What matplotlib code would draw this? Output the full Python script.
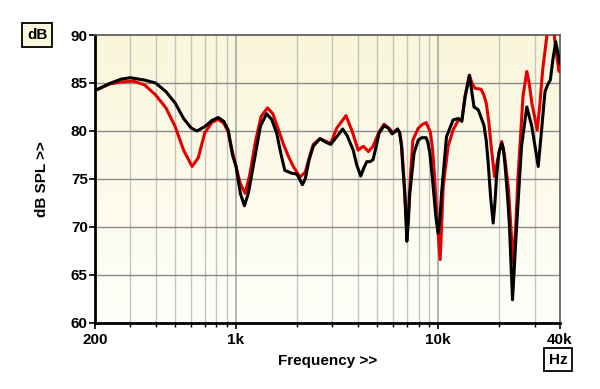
import numpy as np
import matplotlib

matplotlib.use('Agg')
import matplotlib.pyplot as plt
from matplotlib.colors import LinearSegmentedColormap
from matplotlib.ticker import FixedLocator, NullFormatter

plt.rcParams['font.family'] = ['Liberation Sans', 'DejaVu Sans']
plt.rcParams['font.weight'] = 'bold'

# --- Данные (частота, Гц / уровень, дБ) ---
freq_black = [200, 237, 270, 300, 353, 400, 450, 500, 550, 600, 640, 700, 760, 816, 870,
              914, 960, 1000, 1050, 1100, 1150, 1240, 1320, 1416, 1500, 1588, 1660, 1742,
              1880, 2000, 2060, 2130, 2200, 2300, 2410, 2600, 2800, 2940, 3150, 3370, 3550,
              3800, 3950, 4140, 4300, 4440, 4600, 4760, 4950, 5100, 5400, 5660, 5920, 6100,
              6300, 6450, 6590, 6700, 6850, 7000, 7120, 7240, 7600, 7980, 8300, 8720, 8900,
              9100, 9450, 9750, 10000, 10200, 10400, 11000, 11860, 12600, 13100, 13600,
              14280, 14700, 15050, 15800, 16850, 17300, 17700, 18200, 18720, 19100, 19450,
              20000, 20640, 21000, 21400, 22000, 22500, 23340, 24400, 25860, 27460, 29100,
              31280, 32500, 33800, 34800, 35900, 37000, 38200, 40000]
spl_black = [84.2, 84.95, 85.4, 85.55, 85.3, 85.0, 84.1, 82.9, 81.3, 80.3, 80.0, 80.45, 81.1,
             81.4, 81.0, 80.1, 77.5, 76.3, 73.5, 72.2, 73.5, 77.3, 80.5, 81.8, 81.2, 79.8,
             77.8, 75.9, 75.6, 75.5, 75.0, 74.4, 75.0, 77.0, 78.4, 79.2, 78.8, 78.6, 79.4,
             80.2, 79.5, 78.0, 76.5, 75.3, 76.2, 76.8, 76.8, 77.0, 78.5, 79.76, 80.55, 80.3,
             79.7, 79.9, 80.2, 79.8, 78.4, 76.0, 73.5, 68.5, 70.5, 73.5, 77.7, 79.06, 79.3,
             79.3, 78.8, 77.7, 74.2, 71.0, 69.35, 70.8, 73.5, 79.4, 81.15, 81.3, 81.0, 83.6,
             85.8, 84.0, 82.5, 82.2, 80.6, 79.0, 76.6, 73.0, 70.4, 72.5, 75.25, 77.8, 78.7,
             78.2, 76.6, 73.5, 70.4, 62.4, 69.7, 78.4, 82.5, 80.45, 76.3, 80.1, 84.1, 84.8,
             85.3, 87.5, 89.3, 87.05]

freq_red = [200, 237, 270, 310, 353, 400, 450, 500, 550, 606, 650, 700, 760, 816, 870, 914,
            960, 1000, 1050, 1110, 1170, 1250, 1330, 1430, 1520, 1610, 1710, 1820, 1920, 2070,
            2200, 2300, 2410, 2600, 2800, 2940, 3150, 3500, 3750, 4020, 4130, 4270, 4520,
            4760, 5100, 5400, 5700, 6000, 6300, 6450, 6590, 6750, 6900, 7000, 7150, 7300,
            7500, 7980, 8400, 8720, 9150, 9400, 9600, 9900, 10230, 10400, 10600, 11200,
            11860, 12600, 13100, 13600, 14280, 14700, 15200, 16300, 16800, 17300, 17800,
            18300, 19000, 19700, 20640, 21300, 22300, 23500, 24200, 24800, 26300, 27460,
            28200, 29100, 30000, 30900, 31800, 32900, 34700, 35900, 37400, 38500, 39700, 40000]
spl_red = [84.2, 84.9, 85.1, 85.2, 84.8, 83.75, 82.4, 80.45, 78.0, 76.3, 77.2, 79.8, 80.9,
           81.2, 80.8, 79.9, 77.8, 76.3, 74.5, 73.5, 75.5, 79.0, 81.5, 82.4, 81.8, 80.3, 78.7,
           77.3, 76.3, 75.2, 75.7, 77.2, 78.6, 79.2, 78.9, 78.7, 80.3, 81.6, 80.0, 78.0, 78.2,
           78.4, 77.85, 78.4, 79.9, 80.7, 80.3, 79.8, 80.2, 79.8, 78.6, 75.5, 71.5, 69.5, 72.0,
           75.5, 79.06, 80.3, 80.7, 80.87, 79.9, 78.0, 75.25, 70.5, 66.6, 70.0, 74.2, 78.4,
           80.1, 81.15, 81.15, 83.6, 85.8, 85.0, 84.45, 84.35, 83.8, 82.9, 81.0, 78.4, 75.25,
           77.0, 78.9, 77.5, 73.9, 66.2, 70.0, 74.9, 83.6, 86.2, 85.0, 82.9, 81.5, 80.1, 82.5,
           86.35, 90.3, 91.5, 90.3, 88.0, 86.2, 86.8]

major_ticks = [200, 1000, 10000, 40000]
major_labels = ['200', '1k', '10k', '40k']
minor_ticks = [300, 400, 500, 600, 700, 800, 900,
               2000, 3000, 4000, 5000, 6000, 7000, 8000, 9000,
               20000, 30000]
y_ticks = [60, 65, 70, 75, 80, 85, 90]

# --- Рисунок ---
fig = plt.figure(figsize=(6.0, 3.89), dpi=100)
ax = fig.add_axes([0.158, 0.170, 0.775, 0.740])

# фон с градиентом
bg = LinearSegmentedColormap.from_list('bg', ['#fffffa', '#faf6da'])
ax.imshow(np.linspace(0, 1, 256).reshape(-1, 1), cmap=bg, aspect='auto',
          origin='lower', extent=[0, 1, 0, 1], transform=ax.transAxes, zorder=0)

ax.set_xscale('log')
ax.set_xlim(200, 40000)
ax.set_ylim(60, 90)

# сетка
for f in minor_ticks:
    ax.axvline(f, color='#c4c4c4', lw=1.0, zorder=1)
for f in [1000, 10000]:
    ax.axvline(f, color='#a8a8a8', lw=1.2, zorder=1)
for v in y_ticks[1:-1]:
    ax.axhline(v, color='#8a8a8a', lw=1.0, zorder=1)

ax.plot(freq_red, spl_red, color='#e40000', lw=2.2, zorder=3, solid_joinstyle='round')
ax.plot(freq_black, spl_black, color='#000000', lw=2.2, zorder=4, solid_joinstyle='round')

ax.xaxis.set_major_locator(FixedLocator(major_ticks))
ax.set_xticklabels(major_labels)
ax.xaxis.set_minor_locator(FixedLocator(minor_ticks))
ax.xaxis.set_minor_formatter(NullFormatter())
ax.set_yticks(y_ticks)

ax.tick_params(axis='x', which='major', length=4, width=1.2, pad=3, labelsize=11)
ax.tick_params(axis='x', which='minor', length=3, width=1.0)
ax.tick_params(axis='y', length=4, width=1.2, pad=1, labelsize=11)

for s in ['left', 'bottom']:
    ax.spines[s].set_linewidth(2.0)
    ax.spines[s].set_color('black')
for s in ['top', 'right']:
    ax.spines[s].set_linewidth(1.2)
    ax.spines[s].set_color('#555555')

ax.set_xlabel('Frequency >>', fontsize=11, fontweight='bold', labelpad=5)
ax.set_ylabel('dB SPL >>', fontsize=11, fontweight='bold', labelpad=16)

fig.text(0.062, 0.910, 'dB', fontsize=11, fontweight='bold', ha='center', va='center',
         bbox=dict(boxstyle='square,pad=0.3', fc='#fbf8dc', ec='black', lw=1.3))
fig.text(0.930, 0.075, 'Hz', fontsize=11, fontweight='bold', ha='center', va='center',
         bbox=dict(boxstyle='square,pad=0.3', fc='white', ec='black', lw=1.3))

fig.savefig('out.png', dpi=100)
